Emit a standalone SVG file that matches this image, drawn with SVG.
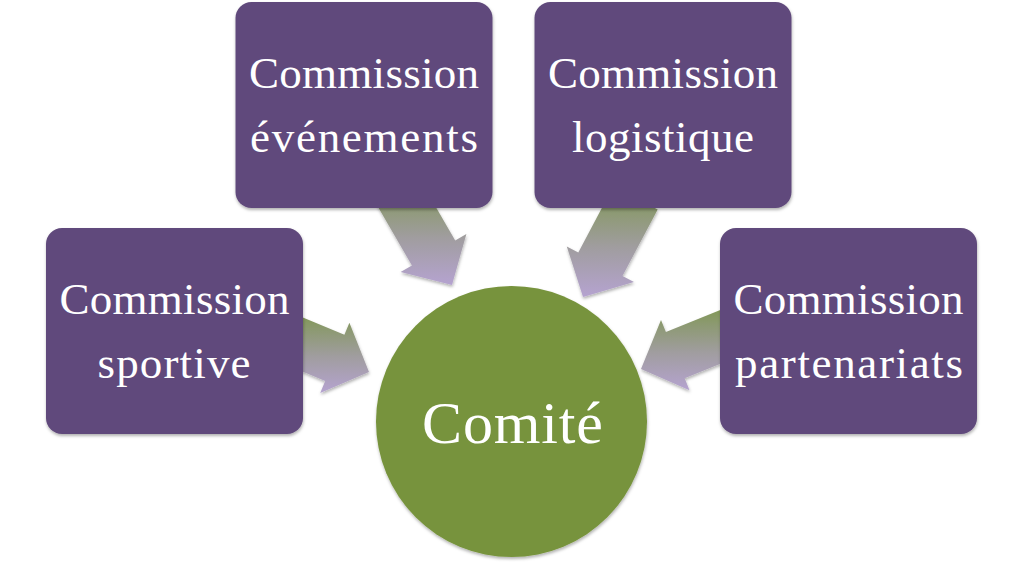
<svg xmlns="http://www.w3.org/2000/svg" width="1024" height="564" viewBox="0 0 1024 564">
<defs>
<linearGradient id="ag" x1="0" y1="0" x2="0" y2="1">
<stop offset="0" stop-color="#7f9752"/>
<stop offset="0.55" stop-color="#a09d9f"/>
<stop offset="1" stop-color="#b5a3d0"/>
</linearGradient>
<filter id="sh" x="-10%" y="-10%" width="120%" height="125%">
<feDropShadow dx="0.5" dy="2" stdDeviation="1.8" flood-color="#000" flood-opacity="0.3"/>
</filter>
</defs>
<style>
.box{fill:#604a7b;filter:url(#sh)}
.arr{fill:url(#ag);filter:url(#sh)}
.t{font-family:"Liberation Serif","DejaVu Serif",serif;font-size:45px;fill:#ffffff;text-anchor:middle}
.big{font-size:60px}
</style>
<rect width="1024" height="564" fill="#ffffff"/>
<g id="connectors">
<polygon class="arr" points="369,372 320.2,392.9 325.2,380.9 269.8,357.9 289,311.7 344.4,334.7 349.4,322.7"/>
<polygon class="arr" points="452,285 400.6,272 411.9,265.5 376.9,204.9 420.2,179.9 455.2,240.5 466.4,234"/>
<polygon class="arr" points="583,297 566.8,246.5 578.3,252.6 613.5,186 657.7,209.4 622.5,276 634,282.1"/>
<polygon class="arr" points="641,369 661,319.9 665.9,331.9 730.8,305.7 749.6,352.1 684.7,378.3 689.5,390.3"/>
</g>
<g id="node-sportive">
<rect class="box" x="46" y="228" width="257" height="206" rx="16"/>
<text class="t" x="174.5" y="314" textLength="230" lengthAdjust="spacing">Commission</text>
<text class="t" x="174" y="378" textLength="153" lengthAdjust="spacing">sportive</text>
</g>
<g id="node-evenements">
<rect class="box" x="235.5" y="2" width="257" height="206" rx="16"/>
<text class="t" x="364" y="88" textLength="230" lengthAdjust="spacing">Commission</text>
<text class="t" x="364" y="152" textLength="228" lengthAdjust="spacing">événements</text>
</g>
<g id="node-logistique">
<rect class="box" x="534.5" y="2" width="257" height="206" rx="16"/>
<text class="t" x="663" y="88" textLength="230" lengthAdjust="spacing">Commission</text>
<text class="t" x="663" y="152" textLength="182" lengthAdjust="spacing">logistique</text>
</g>
<g id="node-partenariats">
<rect class="box" x="720" y="228" width="257" height="206" rx="16"/>
<text class="t" x="848.5" y="314" textLength="230" lengthAdjust="spacing">Commission</text>
<text class="t" x="849" y="378" textLength="228" lengthAdjust="spacing">partenariats</text>
</g>
<g id="node-comite">
<circle cx="511.5" cy="421.5" r="135.5" fill="#77933c" filter="url(#sh)"/>
<text class="t big" x="512.5" y="443" textLength="181" lengthAdjust="spacing">Comité</text>
</g>
</svg>
